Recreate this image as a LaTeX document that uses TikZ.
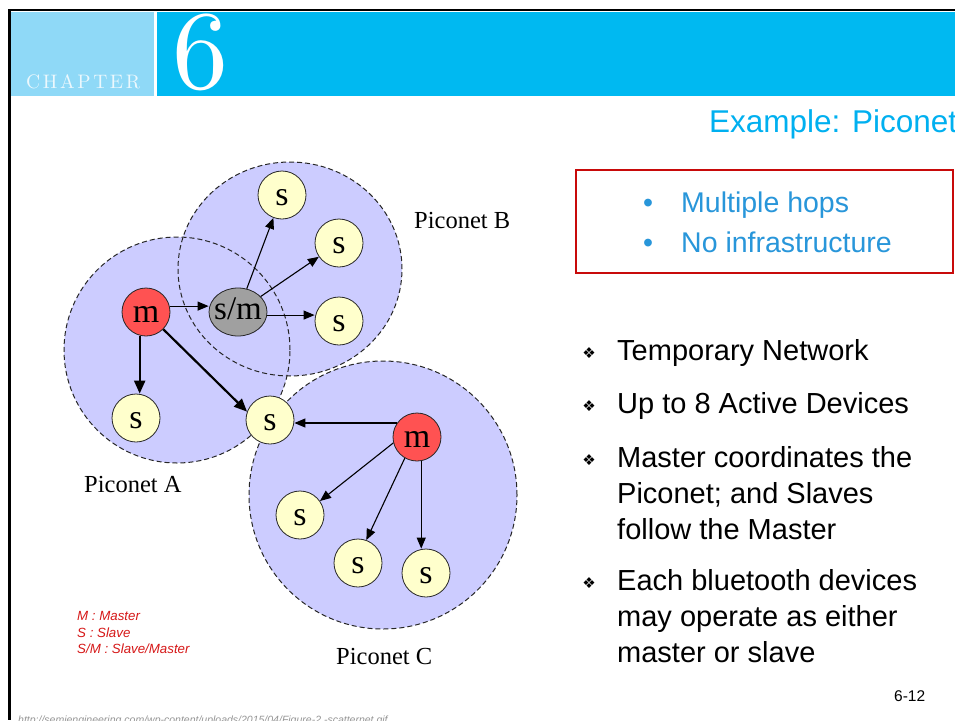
\documentclass[tikz,border=0pt]{standalone}
\usepackage{fontspec}
\newfontfamily\arial{Liberation Sans}
\newfontfamily\tnr{Liberation Serif}
\newfontfamily\dejavu{DejaVu Sans}
\newfontfamily\chapfont{lmroman10-regular.otf}
\usetikzlibrary{arrows.meta,shapes.geometric}

\definecolor{bandlight}{RGB}{143,217,247}
\definecolor{banddark}{RGB}{0,185,241}
\definecolor{chaptxt}{RGB}{236,248,253}
\definecolor{titleblue}{RGB}{0,176,240}
\definecolor{pointblue}{RGB}{40,150,218}
\definecolor{boxred}{RGB}{200,10,10}
\definecolor{legendred}{RGB}{214,24,24}
\definecolor{cellfill}{RGB}{204,204,255}
\definecolor{slavefill}{RGB}{255,255,204}
\definecolor{masterfill}{RGB}{255,82,82}
\definecolor{relayfill}{RGB}{160,160,160}
\definecolor{urlgray}{RGB}{150,150,150}

\tikzset{
  cellborder/.style={draw=black!85, line width=1pt, dash pattern=on 5pt off 3pt},
  device/.style={circle, draw=black!85, line width=0.8pt, minimum size=48pt,
    inner sep=0pt, text height=21.6pt, text depth=0pt,
    font=\tnr\fontsize{34}{34}\selectfont},
  slave/.style={device, fill=slavefill},
  master/.style={device, fill=masterfill},
  relay/.style={ellipse, draw=black!85, line width=0.8pt, fill=relayfill,
    minimum width=58pt, minimum height=48pt, inner sep=0pt},
  link/.style={line width=1.1pt, -{Triangle[length=11pt,width=9pt]}},
  boldlink/.style={line width=2.2pt, -{Triangle[length=13pt,width=11pt]}},
  netlabel/.style={anchor=base west, inner sep=0pt, font=\tnr\fontsize{24.5}{24.5}\selectfont},
  point/.style={anchor=base west, inner sep=0pt, font=\arial\fontsize{29}{36}\selectfont},
  pointmark/.style={font=\dejavu\fontsize{15}{15}\selectfont, inner sep=0pt},
  boxpoint/.style={anchor=base west, inner sep=0pt, text=pointblue, font=\arial\fontsize{28.5}{28.5}\selectfont},
  legend/.style={anchor=base west, inner sep=0pt, text=legendred, font=\arial\itshape\fontsize{13.3}{13.3}\selectfont},
}

\begin{document}
\begin{tikzpicture}[x=1pt,y=-1pt]
\useasboundingbox (0,0) rectangle (955,720);
\clip (0,0) rectangle (955,720);

% slide frame and chapter band
\fill[white] (0,0) rectangle (955,720);
\draw[line width=2.6pt, black] (955,10) -- (9.3,10) -- (9.3,720);
\fill[bandlight] (11,12) rectangle (153.5,96);
\fill[banddark] (157,12) rectangle (955,96);
\node[anchor=base west, inner sep=0pt, text=chaptxt, font=\chapfont\fontsize{19.5}{19.5}\selectfont]
  (chap) at (26,88) {\makebox[114pt][s]{C\hfill H\hfill A\hfill P\hfill T\hfill E\hfill R}};
\node[anchor=base west, inner sep=0pt, text=white, font=\chapfont\fontsize{112}{112}\selectfont]
  (chapnum) at (172,88) {6};

% slide title
\node[anchor=base west, inner sep=0pt, text=titleblue, font=\arial\fontsize{31.5}{31.5}\selectfont]
  (title) at (709,132) {Example: Piconet};

% highlighted box
\draw[boxred, line width=2pt] (576,170) rectangle (953,273);
\node[boxpoint] (b1dot) at (643,212) {•};
\node[boxpoint] (b1) at (681,212) {Multiple hops};
\node[boxpoint] (b2dot) at (643,252) {•};
\node[boxpoint] (b2) at (681,252) {No infrastructure};

% bullet points
\node[pointmark] (m1) at (589,353) {❖};
\node[point] (p1) at (617,360) {Temporary Network};
\node[pointmark] (m2) at (589,406) {❖};
\node[point] (p2) at (617,413) {Up to 8 Active Devices};
\node[pointmark] (m3) at (589,460) {❖};
\node[point] (p3) at (617,467) {\parbox[t]{330pt}{\raggedright Master coordinates the\\Piconet; and Slaves\\follow the Master}};
\node[pointmark] (m4) at (589,583) {❖};
\node[point] (p4) at (617,590) {\parbox[t]{330pt}{\raggedright Each bluetooth devices\\may operate as either\\master or slave}};

\node[anchor=base west, inner sep=0pt, font=\arial\fontsize{15.5}{15.5}\selectfont] (pg) at (894,701) {6-12};

% piconet areas
\fill[cellfill] (177,350) circle (113pt);
\fill[cellfill] (290,269) ellipse [x radius=112pt, y radius=107pt];
\fill[cellfill] (383,495) circle (134pt);
\draw[cellborder] (177,350) circle (113pt);
\draw[cellborder] (290,269) ellipse [x radius=112pt, y radius=107pt];
\draw[cellborder] (383,495) circle (134pt);

% devices
\node[master] (mA) at (146,312) {m};
\node[relay, label={[font=\tnr\fontsize{33}{33}\selectfont, text height=21pt, text depth=6pt]center:s/m}] (sm) at (238,312) {};
\node[slave] (sB1) at (282,195) {s};
\node[slave] (sB2) at (339,243) {s};
\node[slave] (sB3) at (339,321) {s};
\node[slave] (sA) at (136,418) {s};
\node[slave] (sh) at (270,420) {s};
\node[master] (mC) at (417,437) {m};
\node[slave] (sC1) at (300,515) {s};
\node[slave] (sC2) at (358,563) {s};
\node[slave] (sC3) at (426,573) {s};

% links
\draw[link] (mA.14) -- (mA.14 -| sm.west);
\draw[link] (sm.-6) -- (sm.-6 -| sB3.west);
\draw[link] (sm) -- (sB1);
\draw[link] (sm) -- (sB2);
\draw[boldlink] (mA.255) -- (mA.255 |- sA.north);
\draw[boldlink] (mA.-45) -- (sh.160);
\draw[link] (mC.145) -- (mC.145 -| sh.east);
\draw[link] (mC.194) -- (sC1.35);
\draw[link] (mC.240) -- (sC2.70);
\draw[link] (mC.-80) -- (mC.-80 |- sC3.north);

% piconet names
\node[netlabel] (nB) at (414,228) {Piconet B};
\node[netlabel] (nA) at (84,492) {Piconet A};
\node[netlabel] (nC) at (336,664) {Piconet C};

% legend
\node[legend] (l1) at (77,620) {M : Master};
\node[legend] (l2) at (77,637) {S : Slave};
\node[legend] (l3) at (77,653) {S/M : Slave/Master};

% source
\node[anchor=base west, inner sep=0pt, text=urlgray, font=\arial\itshape\fontsize{10.5}{10.5}\selectfont]
  (src) at (18,723) {http://semiengineering.com/wp-content/uploads/2015/04/Figure-2.-scatternet.gif};
\end{tikzpicture}
\end{document}
